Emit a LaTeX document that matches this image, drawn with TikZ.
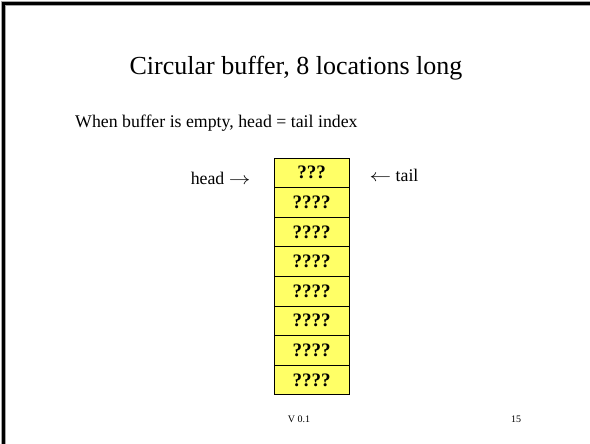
\documentclass[tikz,border=0pt]{standalone}
\usepackage{fontspec}
\setmainfont{Liberation Serif}
\definecolor{cellfill}{HTML}{FFFF66}
\newcommand{\rarr}{\scalebox{1.25}[1]{$\rightarrow$}}
\newcommand{\larr}{\scalebox{1.25}[1]{$\leftarrow$}}
\tikzset{
  cell/.style={draw=black, line width=0.8pt, fill=cellfill, minimum width=75pt,
    minimum height=29.6pt, inner sep=0pt, font=\fontsize{19}{19}\selectfont\bfseries},
  label/.style={inner sep=0pt, font=\fontsize{17.8}{20}\selectfont},
  footer/.style={inner sep=0pt, font=\fontsize{10}{12}\selectfont},
}
\begin{document}
\begin{tikzpicture}[x=1pt,y=-1pt]
\useasboundingbox (0,0) rectangle (590,444);
\fill[white] (0,0) rectangle (590,444);
% slide frame, top and left edges
\draw[line width=5pt, black!35] (3.5,444) -- (3.5,3.5) -- (590,3.5);
\draw[line width=3pt, black] (3.5,444) -- (3.5,3.5) -- (590,3.5);

% heading and text
\node[inner sep=0pt, anchor=base, font=\fontsize{26}{30}\selectfont] (title) at (296,75) {Circular buffer, 8 locations long};
\node[label, anchor=base west] (note) at (75,128) {When buffer is empty, head = tail index};

% the eight buffer locations
\node[cell] (c1) at (311.5,172.8) {???};
\foreach \i [evaluate=\i as \yy using 172.8+(\i-1)*29.6] in {2,...,8}
  \node[cell] (c\i) at (311.5,\yy) {????};

% index labels
\node[label, anchor=base east] (head) at ([xshift=-23pt]c1.west |- 0,185) {head \rarr};
\node[label, anchor=base west] (tail) at ([xshift=20pt]c1.east |- 0,182) {\larr\ tail};

% footer
\node[footer, anchor=base] (ver) at (299,422) {V 0.1};
\node[footer, anchor=base] (page) at (516,422) {15};
\end{tikzpicture}
\end{document}
